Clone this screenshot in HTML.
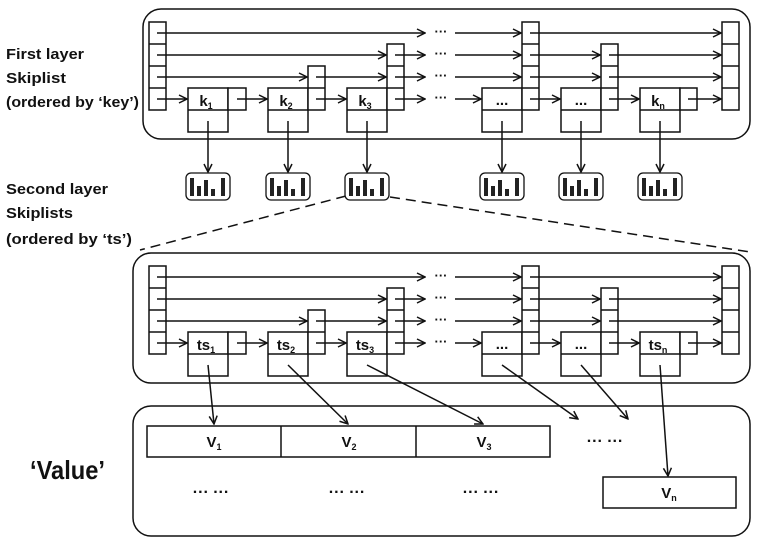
<!DOCTYPE html>
<html><head><meta charset="utf-8"><style>
html,body{margin:0;padding:0;background:#fff;}
svg{display:block;}
text{font-family:"Liberation Sans",sans-serif;}
</style></head><body>
<svg width="760" height="540" viewBox="0 0 760 540" xmlns="http://www.w3.org/2000/svg">
<defs>
<marker id="a" markerWidth="10" markerHeight="10" refX="9" refY="5" orient="auto" markerUnits="userSpaceOnUse">
<path d="M1,1 L9,5 L1,9" fill="none" stroke="#111" stroke-width="1.5"/>
</marker>
</defs>
<g font-weight="bold" font-size="15" fill="#111">
<text x="6" y="59" textLength="78" lengthAdjust="spacingAndGlyphs">First layer</text>
<text x="6" y="83" textLength="60" lengthAdjust="spacingAndGlyphs">Skiplist</text>
<text x="6" y="107" textLength="133" lengthAdjust="spacingAndGlyphs">(ordered by ‘key’)</text>
<text x="6" y="194" textLength="102" lengthAdjust="spacingAndGlyphs">Second layer</text>
<text x="6" y="218" textLength="67" lengthAdjust="spacingAndGlyphs">Skiplists</text>
<text x="6" y="244" textLength="126" lengthAdjust="spacingAndGlyphs">(ordered by ‘ts’)</text>
<text x="30" y="479" font-size="26" textLength="75" lengthAdjust="spacingAndGlyphs">‘Value’</text>
</g>

<g fill="none" stroke="#111" stroke-width="1.5">
<rect x="143" y="9" width="607" height="130" rx="18"/>
<rect x="133" y="253" width="617" height="130" rx="18"/>
<rect x="133" y="406" width="617" height="130" rx="18"/>
<path d="M346,196 L140,250" stroke-dasharray="10,6"/>
<path d="M390,197 L750,252" stroke-dasharray="10,6"/>
</g>

<g fill="#fff" stroke="#111" stroke-width="1.5">
<rect x="149" y="22" width="17" height="88"/><path d="M149,44h17M149,66h17M149,88h17"/>
<rect x="188" y="88" width="40" height="44"/><path d="M188,110h40"/><rect x="228" y="88" width="18" height="22"/>
<rect x="268" y="88" width="40" height="44"/><path d="M268,110h40"/><rect x="308" y="66" width="17" height="44"/><path d="M308,88h17"/>
<rect x="347" y="88" width="40" height="44"/><path d="M347,110h40"/><rect x="387" y="44" width="17" height="66"/><path d="M387,66h17M387,88h17"/>
<rect x="482" y="88" width="40" height="44"/><path d="M482,110h40"/><rect x="522" y="22" width="17" height="88"/><path d="M522,44h17M522,66h17M522,88h17"/>
<rect x="561" y="88" width="40" height="44"/><path d="M561,110h40"/><rect x="601" y="44" width="17" height="66"/><path d="M601,66h17M601,88h17"/>
<rect x="640" y="88" width="40" height="44"/><path d="M640,110h40"/><rect x="680" y="88" width="17" height="22"/>
<rect x="722" y="22" width="17" height="88"/><path d="M722,44h17M722,66h17M722,88h17"/>
</g>
<g transform="translate(0,244)" fill="#fff" stroke="#111" stroke-width="1.5">
<rect x="149" y="22" width="17" height="88"/><path d="M149,44h17M149,66h17M149,88h17"/>
<rect x="188" y="88" width="40" height="44"/><path d="M188,110h40"/><rect x="228" y="88" width="18" height="22"/>
<rect x="268" y="88" width="40" height="44"/><path d="M268,110h40"/><rect x="308" y="66" width="17" height="44"/><path d="M308,88h17"/>
<rect x="347" y="88" width="40" height="44"/><path d="M347,110h40"/><rect x="387" y="44" width="17" height="66"/><path d="M387,66h17M387,88h17"/>
<rect x="482" y="88" width="40" height="44"/><path d="M482,110h40"/><rect x="522" y="22" width="17" height="88"/><path d="M522,44h17M522,66h17M522,88h17"/>
<rect x="561" y="88" width="40" height="44"/><path d="M561,110h40"/><rect x="601" y="44" width="17" height="66"/><path d="M601,66h17M601,88h17"/>
<rect x="640" y="88" width="40" height="44"/><path d="M640,110h40"/><rect x="680" y="88" width="17" height="22"/>
<rect x="722" y="22" width="17" height="88"/><path d="M722,44h17M722,66h17M722,88h17"/>
</g>

<!-- horizontal arrows, both layers -->
<g fill="none" stroke="#111" stroke-width="1.5" marker-end="url(#a)">
<path d="M157,33H425"/><path d="M455,33H521"/><path d="M530,33H721"/>
<path d="M157,55H386"/><path d="M395,55H425"/><path d="M455,55H521"/><path d="M530,55H600"/><path d="M609,55H721"/>
<path d="M157,77H307"/><path d="M316,77H386"/><path d="M395,77H425"/><path d="M455,77H521"/><path d="M530,77H600"/><path d="M609,77H721"/>
<path d="M157,99H187"/><path d="M237,99H267"/><path d="M316,99H346"/><path d="M395,99H425"/><path d="M455,99H481"/><path d="M530,99H560"/><path d="M609,99H639"/><path d="M688,99H721"/>
<g transform="translate(0,244)">
<path d="M157,33H425"/><path d="M455,33H521"/><path d="M530,33H721"/>
<path d="M157,55H386"/><path d="M395,55H425"/><path d="M455,55H521"/><path d="M530,55H600"/><path d="M609,55H721"/>
<path d="M157,77H307"/><path d="M316,77H386"/><path d="M395,77H425"/><path d="M455,77H521"/><path d="M530,77H600"/><path d="M609,77H721"/>
<path d="M157,99H187"/><path d="M237,99H267"/><path d="M316,99H346"/><path d="M395,99H425"/><path d="M455,99H481"/><path d="M530,99H560"/><path d="M609,99H639"/><path d="M688,99H721"/>
</g>
<path d="M208,121V172"/><path d="M288,121V172"/><path d="M367,121V172"/><path d="M502,121V172"/><path d="M581,121V172"/><path d="M660,121V172"/>
<path d="M208,365L214,424"/><path d="M288,365L348,424"/><path d="M367,365L483,424"/><path d="M502,365L578,419"/><path d="M581,365L628,419"/><path d="M660,365L668,476"/>
</g>

<g font-weight="bold" font-size="13" fill="#111" text-anchor="middle">
<text x="441" y="36">···</text><text x="441" y="58">···</text><text x="441" y="80">···</text><text x="441" y="102">···</text>
<text x="441" y="280">···</text><text x="441" y="302">···</text><text x="441" y="324">···</text><text x="441" y="346">···</text>
</g>
<g font-weight="bold" font-size="15" fill="#111" text-anchor="middle">
<text x="206" y="106">k<tspan font-size="9" dy="3">1</tspan></text>
<text x="286" y="106">k<tspan font-size="9" dy="3">2</tspan></text>
<text x="365" y="106">k<tspan font-size="9" dy="3">3</tspan></text>
<text x="502" y="105">...</text>
<text x="581" y="105">...</text>
<text x="658" y="106">k<tspan font-size="9" dy="3">n</tspan></text>
<text x="206" y="350">ts<tspan font-size="9" dy="3">1</tspan></text>
<text x="286" y="350">ts<tspan font-size="9" dy="3">2</tspan></text>
<text x="365" y="350">ts<tspan font-size="9" dy="3">3</tspan></text>
<text x="502" y="349">...</text>
<text x="581" y="349">...</text>
<text x="658" y="350">ts<tspan font-size="9" dy="3">n</tspan></text>
</g>

<g stroke="#111" stroke-width="1.3" fill="#fff">
<rect x="186" y="173" width="44" height="27" rx="5"/>
<g fill="#222" stroke="none"><rect x="190" y="178" width="4" height="18"/><rect x="197" y="186" width="4" height="10"/><rect x="204" y="180" width="4" height="16"/><rect x="211" y="189" width="4" height="7"/><rect x="221" y="178" width="4" height="18"/></g>
<rect x="266" y="173" width="44" height="27" rx="5"/>
<g fill="#222" stroke="none"><rect x="270" y="178" width="4" height="18"/><rect x="277" y="186" width="4" height="10"/><rect x="284" y="180" width="4" height="16"/><rect x="291" y="189" width="4" height="7"/><rect x="301" y="178" width="4" height="18"/></g>
<rect x="345" y="173" width="44" height="27" rx="5"/>
<g fill="#222" stroke="none"><rect x="349" y="178" width="4" height="18"/><rect x="356" y="186" width="4" height="10"/><rect x="363" y="180" width="4" height="16"/><rect x="370" y="189" width="4" height="7"/><rect x="380" y="178" width="4" height="18"/></g>
<rect x="480" y="173" width="44" height="27" rx="5"/>
<g fill="#222" stroke="none"><rect x="484" y="178" width="4" height="18"/><rect x="491" y="186" width="4" height="10"/><rect x="498" y="180" width="4" height="16"/><rect x="505" y="189" width="4" height="7"/><rect x="515" y="178" width="4" height="18"/></g>
<rect x="559" y="173" width="44" height="27" rx="5"/>
<g fill="#222" stroke="none"><rect x="563" y="178" width="4" height="18"/><rect x="570" y="186" width="4" height="10"/><rect x="577" y="180" width="4" height="16"/><rect x="584" y="189" width="4" height="7"/><rect x="594" y="178" width="4" height="18"/></g>
<rect x="638" y="173" width="44" height="27" rx="5"/>
<g fill="#222" stroke="none"><rect x="642" y="178" width="4" height="18"/><rect x="649" y="186" width="4" height="10"/><rect x="656" y="180" width="4" height="16"/><rect x="663" y="189" width="4" height="7"/><rect x="673" y="178" width="4" height="18"/></g>
</g>

<g fill="none" stroke="#111" stroke-width="1.5">
<rect x="147" y="426" width="403" height="31"/><path d="M281,426V457M416,426V457"/>
<rect x="603" y="477" width="133" height="31"/>
</g>
<g font-weight="bold" font-size="15" fill="#111" text-anchor="middle">
<text x="214" y="447">V<tspan font-size="9" dy="3">1</tspan></text>
<text x="349" y="447">V<tspan font-size="9" dy="3">2</tspan></text>
<text x="484" y="447">V<tspan font-size="9" dy="3">3</tspan></text>
<text x="669" y="498">V<tspan font-size="9" dy="3">n</tspan></text>
<text x="605" y="446" font-size="16">··· ···</text>
<text x="211" y="497" font-size="16">··· ···</text>
<text x="347" y="497" font-size="16">··· ···</text>
<text x="481" y="497" font-size="16">··· ···</text>
</g>
</svg>
</body></html>
